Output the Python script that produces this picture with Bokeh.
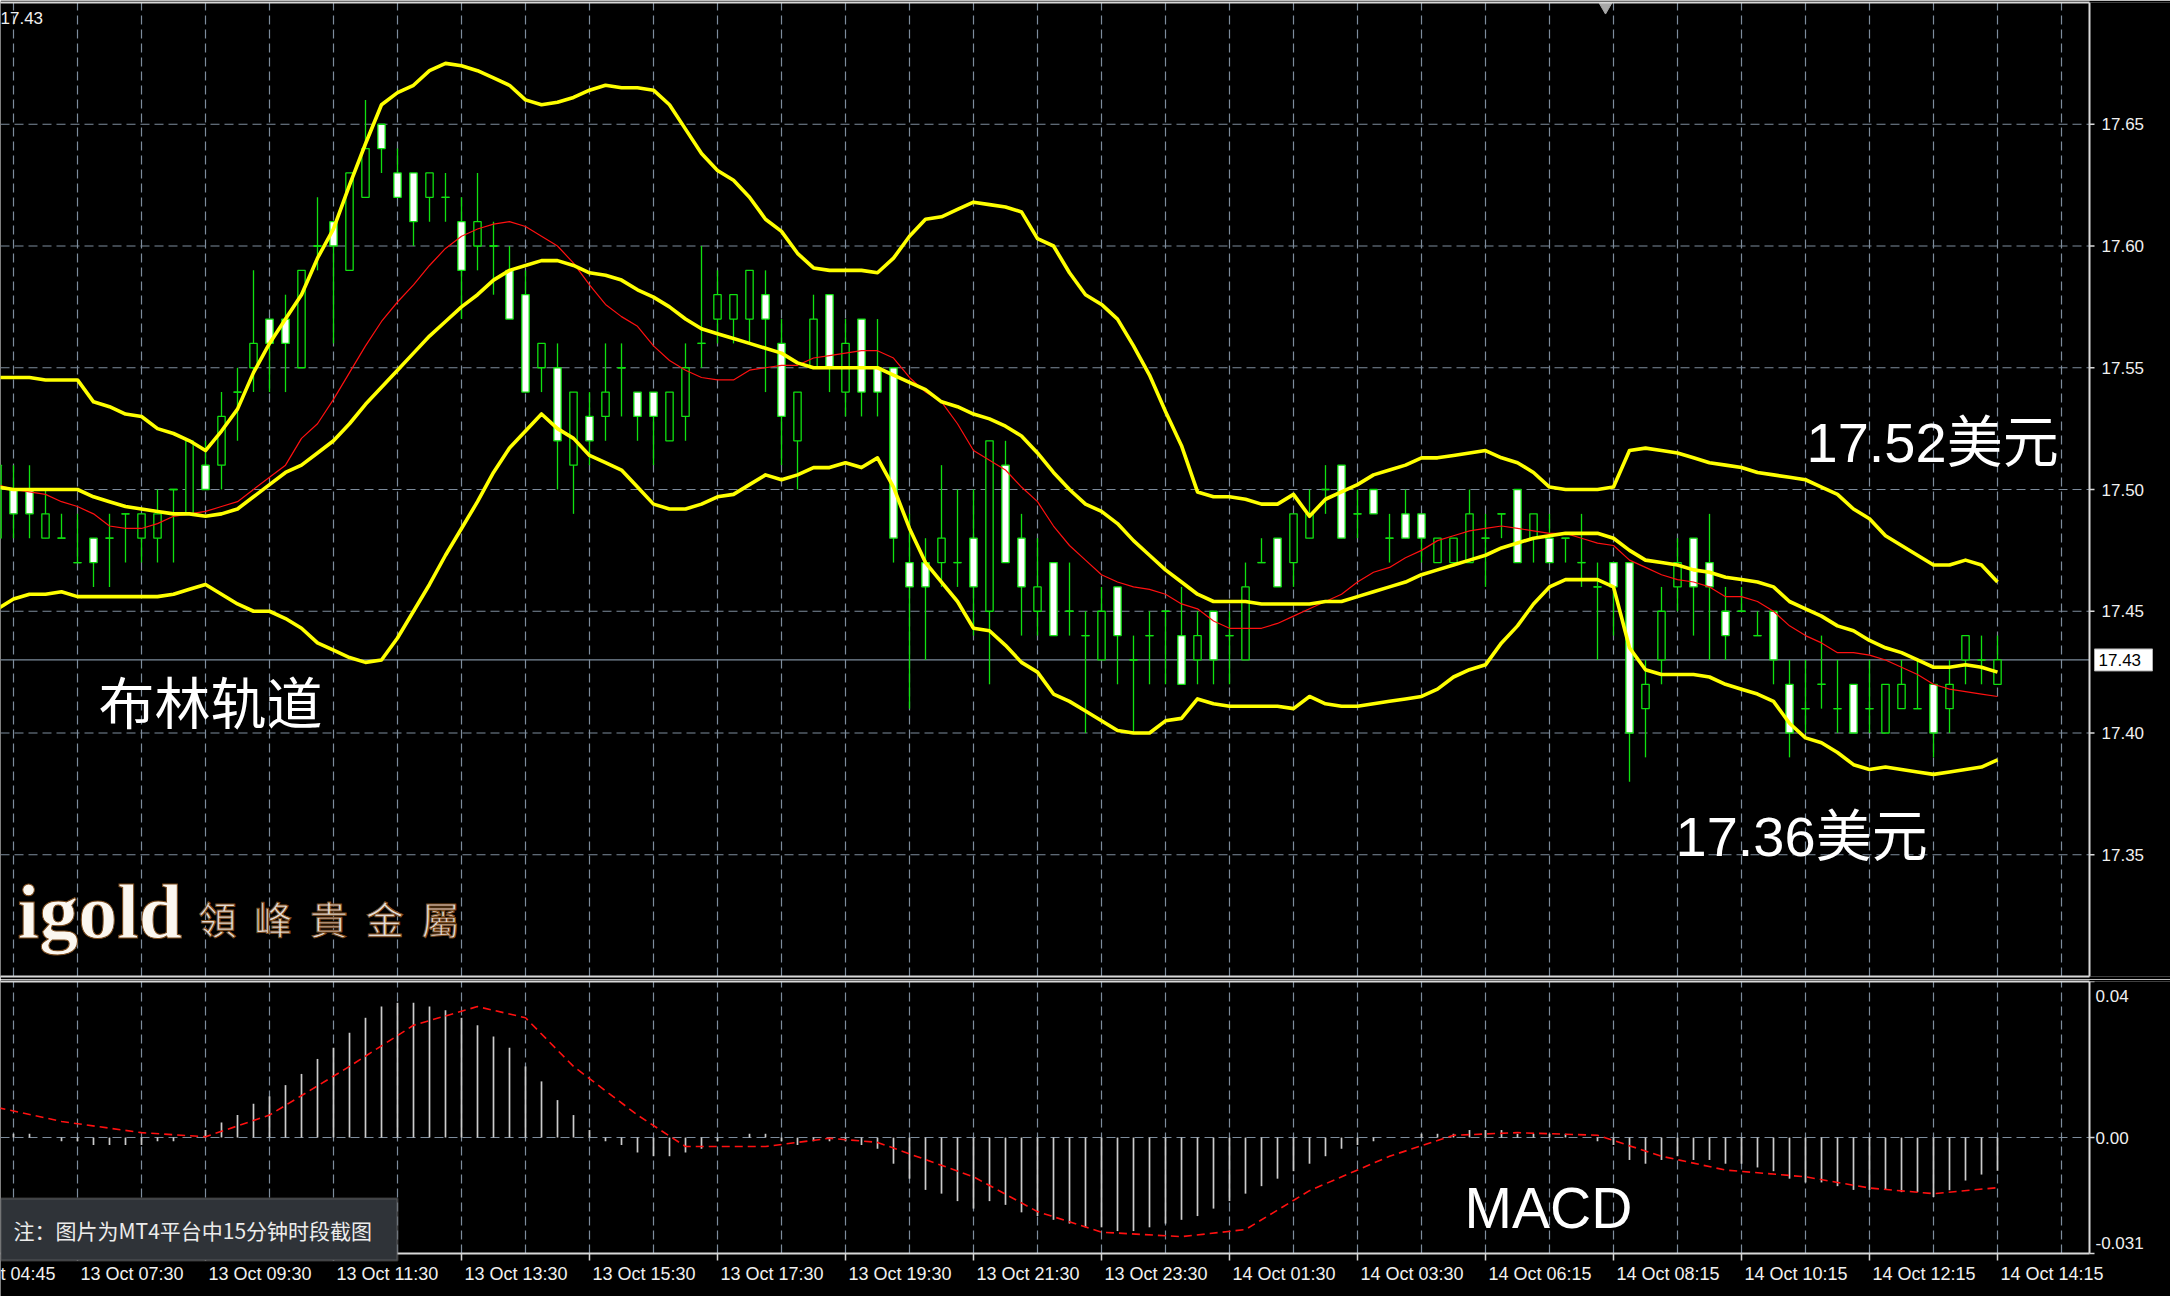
from bokeh.core.properties import value
from bokeh.embed import file_html
from bokeh.layouts import column
from bokeh.models import (BoxAnnotation, ColumnDataSource, FixedTicker, Grid, Label,
                          LinearAxis, Range1d, Text)
from bokeh.plotting import figure
from bokeh.resources import INLINE

# ---------------------------------------------------------------- data
# 15-minute silver bars, first entry is bar -1 (partly off the left edge)
FIRST_BAR = -1

opens = [
    17.48, 17.50, 17.50, 17.48, 17.48, 17.47, 17.48, 17.48, 17.49, 17.48,
    17.48, 17.50, 17.49, 17.51, 17.51, 17.54, 17.55, 17.57, 17.57, 17.55,
    17.60, 17.61, 17.59, 17.62, 17.65, 17.63, 17.63, 17.62, 17.62, 17.61,
    17.60, 17.60, 17.59, 17.58, 17.55, 17.55, 17.51, 17.53, 17.53, 17.55,
    17.54, 17.54, 17.52, 17.53, 17.56, 17.57, 17.57, 17.57, 17.58, 17.56,
    17.52, 17.55, 17.58, 17.54, 17.57, 17.55, 17.55, 17.47, 17.47, 17.47,
    17.47, 17.48, 17.45, 17.51, 17.48, 17.45, 17.47, 17.45, 17.44, 17.43,
    17.46, 17.43, 17.44, 17.45, 17.44, 17.43, 17.45, 17.44, 17.43, 17.47,
    17.48, 17.47, 17.48, 17.50, 17.51, 17.49, 17.50, 17.48, 17.49, 17.49,
    17.47, 17.47, 17.47, 17.48, 17.49, 17.50, 17.48, 17.48, 17.48, 17.47,
    17.46, 17.47, 17.47, 17.41, 17.43, 17.46, 17.48, 17.47, 17.45, 17.45,
    17.44, 17.45, 17.42, 17.41, 17.42, 17.41, 17.42, 17.41, 17.40, 17.41,
    17.41, 17.42, 17.41, 17.43, 17.43, 17.42,
]
highs = [
    17.51, 17.51, 17.51, 17.50, 17.49, 17.49, 17.48, 17.49, 17.49, 17.49,
    17.50, 17.50, 17.52, 17.52, 17.54, 17.55, 17.59, 17.57, 17.58, 17.59,
    17.62, 17.61, 17.63, 17.66, 17.65, 17.64, 17.63, 17.63, 17.63, 17.62,
    17.63, 17.61, 17.60, 17.59, 17.56, 17.56, 17.54, 17.54, 17.56, 17.56,
    17.54, 17.54, 17.54, 17.56, 17.60, 17.59, 17.58, 17.59, 17.59, 17.57,
    17.54, 17.58, 17.58, 17.57, 17.57, 17.57, 17.55, 17.49, 17.48, 17.51,
    17.50, 17.50, 17.52, 17.52, 17.49, 17.48, 17.47, 17.47, 17.45, 17.46,
    17.46, 17.44, 17.45, 17.45, 17.46, 17.45, 17.45, 17.45, 17.47, 17.48,
    17.48, 17.49, 17.50, 17.51, 17.51, 17.50, 17.50, 17.49, 17.50, 17.49,
    17.48, 17.48, 17.50, 17.49, 17.49, 17.50, 17.49, 17.49, 17.48, 17.49,
    17.47, 17.47, 17.47, 17.43, 17.46, 17.48, 17.48, 17.49, 17.46, 17.46,
    17.45, 17.45, 17.43, 17.43, 17.44, 17.43, 17.42, 17.43, 17.42, 17.43,
    17.43, 17.42, 17.43, 17.44, 17.44, 17.44,
]
lows = [
    17.48, 17.48, 17.48, 17.48, 17.48, 17.47, 17.46, 17.46, 17.47, 17.47,
    17.47, 17.47, 17.49, 17.50, 17.50, 17.52, 17.54, 17.54, 17.54, 17.55,
    17.59, 17.56, 17.59, 17.62, 17.63, 17.62, 17.60, 17.61, 17.61, 17.57,
    17.59, 17.58, 17.57, 17.54, 17.54, 17.50, 17.49, 17.51, 17.52, 17.53,
    17.52, 17.51, 17.52, 17.52, 17.55, 17.56, 17.56, 17.56, 17.54, 17.51,
    17.50, 17.55, 17.54, 17.53, 17.53, 17.53, 17.47, 17.41, 17.43, 17.46,
    17.46, 17.44, 17.42, 17.47, 17.44, 17.44, 17.44, 17.44, 17.40, 17.43,
    17.42, 17.40, 17.42, 17.42, 17.42, 17.42, 17.42, 17.42, 17.43, 17.47,
    17.46, 17.46, 17.48, 17.49, 17.48, 17.48, 17.49, 17.47, 17.48, 17.47,
    17.47, 17.47, 17.47, 17.46, 17.48, 17.47, 17.47, 17.47, 17.47, 17.46,
    17.43, 17.44, 17.38, 17.39, 17.42, 17.45, 17.44, 17.43, 17.43, 17.45,
    17.44, 17.42, 17.39, 17.40, 17.41, 17.40, 17.40, 17.40, 17.40, 17.41,
    17.41, 17.39, 17.40, 17.42, 17.42, 17.42,
]
closes = [
    17.51, 17.49, 17.49, 17.49, 17.48, 17.47, 17.47, 17.48, 17.49, 17.49,
    17.49, 17.50, 17.52, 17.50, 17.53, 17.54, 17.56, 17.56, 17.56, 17.59,
    17.60, 17.60, 17.63, 17.64, 17.64, 17.62, 17.61, 17.63, 17.62, 17.59,
    17.61, 17.60, 17.57, 17.54, 17.56, 17.52, 17.54, 17.52, 17.54, 17.55,
    17.53, 17.53, 17.54, 17.55, 17.56, 17.58, 17.58, 17.59, 17.57, 17.53,
    17.54, 17.57, 17.55, 17.56, 17.54, 17.54, 17.48, 17.46, 17.46, 17.48,
    17.47, 17.46, 17.52, 17.47, 17.46, 17.46, 17.44, 17.45, 17.44, 17.45,
    17.44, 17.43, 17.44, 17.45, 17.42, 17.44, 17.43, 17.44, 17.46, 17.47,
    17.46, 17.49, 17.49, 17.50, 17.48, 17.49, 17.49, 17.48, 17.48, 17.48,
    17.48, 17.48, 17.49, 17.48, 17.49, 17.47, 17.49, 17.47, 17.48, 17.47,
    17.46, 17.46, 17.40, 17.42, 17.45, 17.47, 17.46, 17.46, 17.44, 17.45,
    17.44, 17.43, 17.40, 17.41, 17.42, 17.41, 17.40, 17.41, 17.42, 17.42,
    17.41, 17.40, 17.42, 17.44, 17.43, 17.43,
]

# Bollinger bands (20) and the red moving average, one value per bar
bb_upper = [
    17.546, 17.546, 17.546, 17.545, 17.545, 17.545, 17.536, 17.534, 17.531, 17.530,
    17.525, 17.523, 17.520, 17.516, 17.524, 17.533, 17.548, 17.560, 17.570, 17.580,
    17.595, 17.607, 17.625, 17.642, 17.658, 17.663, 17.666, 17.672, 17.675, 17.674,
    17.672, 17.669, 17.666, 17.660, 17.658, 17.659, 17.661, 17.664, 17.666, 17.665,
    17.665, 17.664, 17.658, 17.648, 17.638, 17.631, 17.627, 17.620, 17.611, 17.606,
    17.597, 17.591, 17.590, 17.590, 17.590, 17.589, 17.595, 17.604, 17.611, 17.612,
    17.615, 17.618, 17.617, 17.616, 17.614, 17.603, 17.600, 17.589, 17.580, 17.576,
    17.570, 17.559, 17.547, 17.532, 17.518, 17.499, 17.497, 17.497, 17.496, 17.494,
    17.494, 17.498, 17.489, 17.496, 17.499, 17.502, 17.506, 17.508, 17.510, 17.513,
    17.513, 17.514, 17.515, 17.516, 17.513, 17.511, 17.507, 17.501, 17.500, 17.500,
    17.500, 17.501, 17.516, 17.517, 17.516, 17.515, 17.513, 17.511, 17.510, 17.509,
    17.507, 17.506, 17.505, 17.504, 17.501, 17.498, 17.492, 17.488, 17.481, 17.477,
    17.473, 17.469, 17.469, 17.471, 17.469, 17.462,
]
bb_middle = [
    17.501, 17.500, 17.500, 17.500, 17.500, 17.500, 17.497, 17.495, 17.493, 17.492,
    17.491, 17.490, 17.490, 17.489, 17.490, 17.492, 17.497, 17.502, 17.507, 17.510,
    17.515, 17.520, 17.527, 17.535, 17.542, 17.549, 17.556, 17.563, 17.569, 17.575,
    17.580, 17.586, 17.590, 17.592, 17.594, 17.594, 17.592, 17.589, 17.588, 17.586,
    17.582, 17.579, 17.575, 17.570, 17.566, 17.564, 17.562, 17.560, 17.558, 17.556,
    17.552, 17.550, 17.550, 17.550, 17.550, 17.550, 17.547, 17.544, 17.541, 17.536,
    17.534, 17.531, 17.529, 17.526, 17.522, 17.515, 17.507, 17.500, 17.494, 17.491,
    17.486, 17.479, 17.473, 17.467, 17.462, 17.457, 17.454, 17.454, 17.454, 17.453,
    17.453, 17.453, 17.453, 17.454, 17.454, 17.456, 17.458, 17.460, 17.462, 17.465,
    17.467, 17.469, 17.471, 17.473, 17.476, 17.478, 17.480, 17.481, 17.482, 17.482,
    17.482, 17.480, 17.475, 17.471, 17.470, 17.469, 17.467, 17.466, 17.464, 17.463,
    17.462, 17.460, 17.454, 17.451, 17.448, 17.444, 17.442, 17.438, 17.435, 17.433,
    17.430, 17.427, 17.427, 17.428, 17.427, 17.425,
]
bb_lower = [
    17.451, 17.455, 17.457, 17.457, 17.458, 17.456, 17.456, 17.456, 17.456, 17.456,
    17.456, 17.457, 17.459, 17.461, 17.457, 17.453, 17.450, 17.450, 17.447, 17.443,
    17.437, 17.434, 17.431, 17.429, 17.430, 17.439, 17.450, 17.461, 17.473, 17.484,
    17.495, 17.507, 17.517, 17.524, 17.531, 17.525, 17.521, 17.514, 17.511, 17.508,
    17.501, 17.494, 17.492, 17.492, 17.494, 17.497, 17.498, 17.502, 17.506, 17.504,
    17.506, 17.509, 17.509, 17.511, 17.509, 17.513, 17.501, 17.484, 17.470, 17.462,
    17.454, 17.443, 17.442, 17.436, 17.429, 17.425, 17.416, 17.413, 17.409, 17.405,
    17.401, 17.400, 17.400, 17.405, 17.406, 17.414, 17.412, 17.411, 17.411, 17.411,
    17.411, 17.410, 17.415, 17.412, 17.411, 17.411, 17.412, 17.413, 17.414, 17.415,
    17.418, 17.423, 17.426, 17.428, 17.437, 17.444, 17.453, 17.460, 17.463, 17.463,
    17.463, 17.460, 17.435, 17.426, 17.424, 17.424, 17.424, 17.423, 17.420, 17.418,
    17.416, 17.413, 17.404, 17.398, 17.396, 17.392, 17.387, 17.385, 17.386, 17.385,
    17.384, 17.383, 17.384, 17.385, 17.386, 17.389,
]
ma_red = [
    17.502, 17.500, 17.499, 17.498, 17.495, 17.493, 17.490, 17.485, 17.484, 17.484,
    17.486, 17.489, 17.490, 17.491, 17.493, 17.495, 17.500, 17.505, 17.510, 17.521,
    17.527, 17.537, 17.548, 17.559, 17.569, 17.577, 17.584, 17.592, 17.599, 17.604,
    17.607, 17.609, 17.610, 17.608, 17.604, 17.600, 17.593, 17.584, 17.576, 17.571,
    17.567, 17.559, 17.553, 17.549, 17.546, 17.545, 17.545, 17.549, 17.550, 17.551,
    17.551, 17.554, 17.555, 17.556, 17.557, 17.557, 17.554, 17.546, 17.540, 17.536,
    17.527, 17.516, 17.512, 17.508, 17.501, 17.495, 17.485, 17.477, 17.471, 17.465,
    17.462, 17.460, 17.459, 17.457, 17.453, 17.451, 17.446, 17.443, 17.443, 17.443,
    17.445, 17.448, 17.451, 17.454, 17.457, 17.462, 17.466, 17.468, 17.472, 17.475,
    17.479, 17.481, 17.483, 17.484, 17.485, 17.484, 17.483, 17.482, 17.482, 17.480,
    17.478, 17.477, 17.471, 17.468, 17.465, 17.463, 17.462, 17.460, 17.456, 17.456,
    17.454, 17.450, 17.444, 17.440, 17.437, 17.433, 17.433, 17.432, 17.430, 17.427,
    17.424, 17.420, 17.418, 17.417, 17.416, 17.415,
]

# MACD histogram per bar, and its signal line
macd_hist = [
    0.0010, 0.0010, 0.0010, 0.0000, -0.0010, -0.0010, -0.0020, -0.0020, -0.0020, -0.0020,
    -0.0010, -0.0010, 0.0000, 0.0020, 0.0040, 0.0060, 0.0090, 0.0110, 0.0140, 0.0170,
    0.0210, 0.0240, 0.0280, 0.0320, 0.0350, 0.0360, 0.0360, 0.0350, 0.0340, 0.0320,
    0.0300, 0.0270, 0.0240, 0.0190, 0.0150, 0.0100, 0.0060, 0.0020, -0.0010, -0.0020,
    -0.0040, -0.0050, -0.0050, -0.0040, -0.0030, -0.0010, 0.0000, 0.0010, 0.0010, -0.0010,
    -0.0020, -0.0010, -0.0010, -0.0010, -0.0020, -0.0030, -0.0070, -0.0110, -0.0140, -0.0150,
    -0.0170, -0.0190, -0.0170, -0.0180, -0.0200, -0.0210, -0.0220, -0.0230, -0.0240, -0.0240,
    -0.0250, -0.0250, -0.0240, -0.0230, -0.0220, -0.0210, -0.0190, -0.0170, -0.0150, -0.0130,
    -0.0110, -0.0090, -0.0070, -0.0050, -0.0030, -0.0020, -0.0010, 0.0000, 0.0000, 0.0010,
    0.0010, 0.0010, 0.0020, 0.0020, 0.0020, 0.0010, 0.0010, 0.0010, 0.0010, 0.0000,
    -0.0010, -0.0020, -0.0060, -0.0070, -0.0060, -0.0050, -0.0060, -0.0060, -0.0070, -0.0070,
    -0.0080, -0.0090, -0.0110, -0.0120, -0.0120, -0.0130, -0.0140, -0.0140, -0.0140, -0.0146,
    -0.0146, -0.0159, -0.0141, -0.0115, -0.0099, -0.0089,
]
signal_bars = [-1, 3, 8, 12, 16, 21, 25, 29, 32, 35, 39, 42, 47, 51, 54, 60,
               64, 68, 73, 77, 81, 86, 90, 94, 99, 103, 107, 112, 116, 120, 124]
signal_vals = [0.0080, 0.0043, 0.0013, 0.0002, 0.0060, 0.0190, 0.0300, 0.0350, 0.0320,
               0.0190, 0.0060, -0.0024, -0.0024, -0.0002, -0.0013, -0.0105, -0.0198,
               -0.0253, -0.0265, -0.0246, -0.0142, -0.0050, 0.0006, 0.0013, 0.0006,
               -0.0050, -0.0087, -0.0105, -0.0135, -0.0150, -0.0134]

current_price = 17.43

y_ticks = [17.35, 17.40, 17.45, 17.50, 17.55, 17.60, 17.65]
y_tick_labels = ["17.35", "17.40", "17.45", "17.50", "17.55", "17.60", "17.65"]
macd_tick_labels = ["0.04", "0.00", "-0.031"]

time_labels = ["13 Oct 04:45", "13 Oct 07:30", "13 Oct 09:30", "13 Oct 11:30", "13 Oct 13:30",
               "13 Oct 15:30", "13 Oct 17:30", "13 Oct 19:30", "13 Oct 21:30", "13 Oct 23:30",
               "14 Oct 01:30", "14 Oct 03:30", "14 Oct 06:15", "14 Oct 08:15", "14 Oct 10:15",
               "14 Oct 12:15", "14 Oct 14:15"]
time_label_bars = list(range(-4, 125, 8))

# ---------------------------------------------------------------- layout
W, H = 2170, 1296
FRAME_R = 2089          # right border of both chart windows; the price scale sits beyond it
BAR_PX, BAR0_PX = 16, 13
MAIN_TOP, MAIN_BOTTOM = 2, 976
PRICE_LO, PRICE_HI = 17.30, 17.70
SUB_TOP, SUB_BOTTOM = 981, 1253
MACD_HI, MACD_LO = 0.0417, -0.031
MAIN_H = MAIN_BOTTOM + 3
SHIFT_MARK_PX = 1605    # chart-shift marker on the top border

BG = "black"
GRID_C = "#7d8c9c"
EDGE_C = "#d8d8d8"
GREEN = "#10e010"
YELLOW = "#ffff00"
RED = "#ff1010"
HIST_C = "#cccccc"
DASH = "9 5"
LATIN = "Liberation Sans"
MIXED = "Liberation Sans, Noto Sans CJK SC"
CJK = "Noto Sans CJK SC"


def bar_at(px):
    return (px - BAR0_PX) / BAR_PX


PRICE_PER_PX = (PRICE_HI - PRICE_LO) / (MAIN_BOTTOM - MAIN_TOP)
MACD_PER_PX = (MACD_HI - MACD_LO) / (SUB_BOTTOM - SUB_TOP)


def price_at(row):
    return PRICE_HI - (row - MAIN_TOP) * PRICE_PER_PX


def macd_at(row):
    return MACD_HI - (row - SUB_TOP) * MACD_PER_PX


bars = list(range(FIRST_BAR, FIRST_BAR + len(opens)))
x_range = Range1d(bar_at(0), bar_at(W))
X_LEFT, X_EDGE = bar_at(0), bar_at(FRAME_R)
grid_bars = list(range(0, int(X_EDGE) + 1, 4))

has_outline = "text_outline_color" in Text.properties()


def edge_axis():
    return LinearAxis(ticker=FixedTicker(ticks=[]), bounds=(X_LEFT, X_EDGE),
                      axis_line_color=EDGE_C, axis_line_width=2,
                      major_tick_in=0, major_tick_out=0, minor_tick_in=0, minor_tick_out=0,
                      major_label_standoff=0, major_label_text_font_size="0px")


def base_fig(height, y_range, top_border, bottom_border):
    f = figure(width=W, height=height, x_range=x_range, y_range=y_range,
               output_backend="svg", toolbar_location=None,
               x_axis_location=None, y_axis_location=None,
               min_border_left=0, min_border_right=0,
               min_border_top=top_border, min_border_bottom=bottom_border,
               background_fill_color=BG, border_fill_color=BG, outline_line_color=None)
    f.center = [r for r in f.center if not isinstance(r, Grid)]
    f.add_layout(edge_axis(), "above")
    return f


def scale_text(f, ys, labels):
    f.text(x=[bar_at(FRAME_R + 12)] * len(ys), y=ys, text=labels, text_color="#f0f0f0",
           text_font=value(LATIN), text_font_size=value("17px"), text_align="left",
           text_baseline="middle")


def scale_ticks(f, ys):
    f.segment(x0=[X_EDGE] * len(ys), y0=ys, x1=[bar_at(FRAME_R + 5)] * len(ys), y1=ys,
              line_color=EDGE_C, line_width=1.5)


# ---------------------------------------------------------------- price window
p1 = base_fig(MAIN_H, Range1d(PRICE_LO, PRICE_HI), MAIN_TOP, MAIN_H - MAIN_BOTTOM)
p1.add_layout(edge_axis(), "below")

p1.segment(x0=grid_bars, y0=[PRICE_LO] * len(grid_bars), x1=grid_bars,
           y1=[PRICE_HI] * len(grid_bars), line_color=GRID_C, line_dash=DASH, line_width=1.2)
p1.segment(x0=[X_LEFT] * len(y_ticks), y0=y_ticks, x1=[X_EDGE] * len(y_ticks), y1=y_ticks,
           line_color=GRID_C, line_dash=DASH, line_width=1.2)
p1.segment(x0=[X_LEFT], y0=[current_price], x1=[X_EDGE], y1=[current_price],
           line_color=GRID_C, line_width=1.3)

tops = [max(o, c) for o, c in zip(opens, closes)]
bottoms = [min(o, c) for o, c in zip(opens, closes)]
fills = ["white" if o > c else BG for o, c in zip(opens, closes)]
candles = ColumnDataSource(dict(x=bars, high=highs, low=lows, top=tops, bottom=bottoms, fill=fills))
p1.segment(x0="x", y0="low", x1="x", y1="high", source=candles, line_color=GREEN, line_width=1.3)
p1.vbar(x="x", width=0.46, top="top", bottom="bottom", source=candles,
        fill_color="fill", line_color=GREEN, line_width=1.3)
doji = [(b, o) for b, o, c in zip(bars, opens, closes) if o == c]
p1.segment(x0=[b - 0.26 for b, _ in doji], y0=[o for _, o in doji],
           x1=[b + 0.26 for b, _ in doji], y1=[o for _, o in doji],
           line_color=GREEN, line_width=1.3)

p1.line(bars, ma_red, line_color=RED, line_width=1.2)
for band in (bb_upper, bb_middle, bb_lower):
    p1.line(bars, band, line_color=YELLOW, line_width=3.6, line_join="round")

# right border, chart-shift marker and price scale
p1.segment(x0=[X_EDGE], y0=[PRICE_LO], x1=[X_EDGE], y1=[PRICE_HI], line_color=EDGE_C,
           line_width=2)
p1.scatter(x=[bar_at(SHIFT_MARK_PX)], y=[PRICE_HI], marker="inverted_triangle", size=20,
           fill_color="#a8a8a8", line_color="#a8a8a8")
scale_ticks(p1, y_ticks)
scale_text(p1, y_ticks, y_tick_labels)

# current price tag on the scale and in the corner
p1.quad(left=[bar_at(FRAME_R + 5)], right=[bar_at(FRAME_R + 63)],
        top=[current_price + 11 * PRICE_PER_PX], bottom=[current_price - 11 * PRICE_PER_PX],
        fill_color="white", line_color="#b0b0b0", line_width=1)
p1.text(x=[bar_at(FRAME_R + 9)], y=[current_price], text=[f"{current_price:.2f}"],
        text_color="black", text_font=value(LATIN), text_font_size=value("17px"),
        text_align="left", text_baseline="middle")
p1.text(x=[X_LEFT], y=[price_at(17)], text=[f"{current_price:.2f}"], text_color="#f0f0f0",
        text_font=value(LATIN), text_font_size=value("17px"), text_align="left",
        text_baseline="middle")

# brand mark
glow = dict(text_outline_color="#7a4a1c") if has_outline else {}
p1.text(x=[bar_at(17)], y=[price_at(911)], text=["igold"], text_color="#fbf7f0",
        text_font=value("Liberation Serif"), text_font_style="bold",
        text_font_size=value("78px"), text_align="left", text_baseline="alphabetic", **glow)
brand_chars = ["領", "峰", "貴", "金", "屬"]
p1.text(x=[bar_at(198 + 55.75 * k) for k in range(len(brand_chars))],
        y=[price_at(917)] * len(brand_chars), text=brand_chars, text_color="#e4ddd6",
        text_font=value(CJK), text_font_size=value("38px"), text_align="left",
        text_baseline="middle", **glow)

# callouts
p1.text(x=[bar_at(98), bar_at(1806), bar_at(1675)],
        y=[price_at(704), price_at(442), price_at(836)],
        text=["布林轨道", "17.52美元", "17.36美元"], text_color="white",
        text_font=value(MIXED), text_font_size=value("56px"), text_align="left",
        text_baseline="middle")

# ---------------------------------------------------------------- MACD window
p2 = base_fig(H - MAIN_H, Range1d(macd_at(H), MACD_HI), SUB_TOP - MAIN_H, 0)

p2.segment(x0=grid_bars, y0=[MACD_LO] * len(grid_bars), x1=grid_bars,
           y1=[MACD_HI] * len(grid_bars), line_color=GRID_C, line_dash=DASH, line_width=1.2)
p2.segment(x0=[X_LEFT], y0=[0], x1=[X_EDGE], y1=[0], line_color=GRID_C, line_dash=DASH,
           line_width=1.2)

p2.segment(x0=bars, y0=[0] * len(bars), x1=bars, y1=macd_hist, line_color=HIST_C,
           line_width=1.7)
p2.line(signal_bars, signal_vals, line_color=RED, line_dash="8 5", line_width=1.6)

p2.text(x=[bar_at(1464)], y=[macd_at(1207)], text=["MACD"], text_color="white",
        text_font=value(LATIN), text_font_size=value("57px"), text_align="left",
        text_baseline="middle")

# border, scale ticks and scale labels of the MACD window
p2.segment(x0=[X_EDGE, X_LEFT], y0=[MACD_LO, MACD_LO], x1=[X_EDGE, X_EDGE],
           y1=[MACD_HI, MACD_LO], line_color=EDGE_C, line_width=2)
scale_ticks(p2, [MACD_HI, 0, MACD_LO])
p2.text(x=[bar_at(FRAME_R + 6)] * 3, y=[macd_at(SUB_TOP + 14), 0, macd_at(SUB_BOTTOM - 11)],
        text=macd_tick_labels, text_color="#f0f0f0", text_font=value(LATIN),
        text_font_size=value("17px"), text_align="left", text_baseline="middle")

# time scale under the MACD window
p2.segment(x0=time_label_bars, y0=[MACD_LO] * len(time_label_bars), x1=time_label_bars,
           y1=[macd_at(SUB_BOTTOM + 7)] * len(time_label_bars), line_color=EDGE_C,
           line_width=1.5)
p2.text(x=time_label_bars, y=[macd_at(1273)] * len(time_label_bars), text=time_labels,
        x_offset=3, text_color="#f0f0f0", text_font=value(LATIN),
        text_font_size=value("18px"), text_align="left", text_baseline="middle")

# caption box
p2.add_layout(BoxAnnotation(left=X_LEFT, right=bar_at(397), top=macd_at(1198),
                            bottom=macd_at(1260), fill_color="#2f3338", fill_alpha=1.0,
                            line_color="#a4a4a4", line_width=2, level="overlay"))
p2.add_layout(Label(x=bar_at(13), y=macd_at(1229), text="注：图片为MT4平台中15分钟时段截图",
                    text_color="#ececec", text_font=CJK, text_font_size="21px",
                    text_baseline="middle", level="overlay"))

layout = column(p1, p2, spacing=0)
open("out.html", "w").write(file_html(layout, INLINE))
